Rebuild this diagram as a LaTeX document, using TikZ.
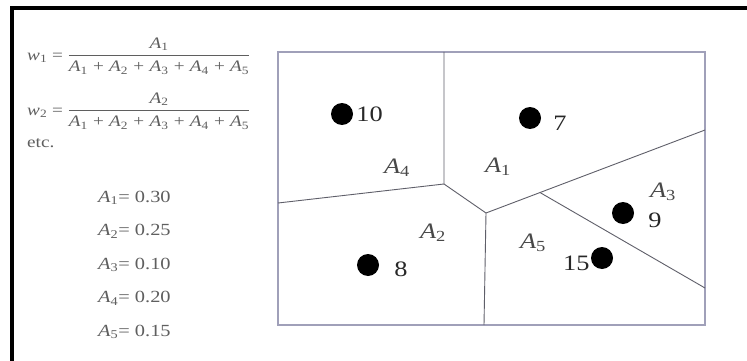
\documentclass[tikz,border=0pt]{standalone}
\usepackage{fontspec}
\setmainfont{Liberation Serif}[FakeStretch=1.2]
\usetikzlibrary{positioning,calc}
\definecolor{VorFrame}{RGB}{160,160,185}
\definecolor{VorEdge}{RGB}{95,95,105}
\definecolor{VorInk}{RGB}{40,40,40}
\definecolor{VorText}{RGB}{95,95,95}
\newcommand{\Ai}[1]{\textit{A}\textsubscript{#1}}
\newcommand{\Pl}{\mkern1.5mu\mathbin{\mbox{+}}\mkern1.5mu}
\newcommand{\Eq}{\mathrel{\mbox{=}}}
\tikzset{
  vor site/.style={circle, fill=black, minimum size=22pt, inner sep=0pt},
  vor num/.style={font=\fontsize{22}{24}\selectfont, text=VorInk, inner sep=0pt},
  vor area/.style={font=\fontsize{22}{24}\selectfont, text=VorInk!85, inner sep=0pt},
  vor edge/.style={draw=VorEdge, line width=0.9pt},
  vor frame/.style={draw=VorFrame, line width=1.2pt},
  w text/.style={font=\fontsize{16}{19}\selectfont, text=VorText, inner sep=0pt, anchor=base west},
  w list/.style={font=\fontsize{17}{20}\selectfont, text=VorText, inner sep=0pt, anchor=west}
}

\begin{document}
\begin{tikzpicture}[x=1pt, y=-1pt]
\useasboundingbox (0,0) rectangle (747,361);
\fill[white] (0,0) rectangle (747,361);
% outer frame, cut at right and bottom
\draw[line width=4pt] (12,366) -- (12,8) -- (752,8);

% weights
\node[w text] (w1) at (27,60) {$\textit{w}\textsubscript{1} \Eq \displaystyle\frac{\Ai{1}}{\Ai{1}\Pl\Ai{2}\Pl\Ai{3}\Pl\Ai{4}\Pl\Ai{5}}$};
\node[w text] (w2) at (27,115) {$\textit{w}\textsubscript{2} \Eq \displaystyle\frac{\Ai{2}}{\Ai{1}\Pl\Ai{2}\Pl\Ai{3}\Pl\Ai{4}\Pl\Ai{5}}$};
\node[w text] (etc) at (27,147) {etc.};
\foreach \i/\v [count=\k] in {1/0.30,2/0.25,3/0.10,4/0.20,5/0.15}
  \node[w list] (a\i) at (98,{198+33.5*(\k-1)}) {\Ai{\i}= \v};

% Voronoi cells
\coordinate (nw) at (278,52);
\coordinate (se) at (705,325);
\coordinate (top) at (444,52);
\coordinate (p) at (444,184);
\coordinate (west) at (278,203);
\coordinate (q) at (486,213);
\coordinate (bot) at (484,325);
\coordinate (r) at (705,130);
\coordinate (s) at ($(q)!0.2466!(r)$);
\coordinate (e) at (705,288);
\draw[vor frame] (nw) rectangle (se);
\draw[vor edge] (top) -- (p) -- (q) -- (bot);
\draw[vor edge] (west) -- (p);
\draw[vor edge] (q) -- (r);
\draw[vor edge] (s) -- (e);

% sites
\node[vor site] (d10) at (342,114) {};
\node[vor site] (d7) at (530,118) {};
\node[vor site] (d8) at (368,265) {};
\node[vor site] (d9) at (623,213) {};
\node[vor site] (d15) at (602,258) {};
\node[vor num, right=3pt of d10] (n10) {10};
\node[vor num, right=12pt of d7, yshift=-5pt] (n7) {7};
\node[vor num, right=15pt of d8, yshift=-4pt] (n8) {8};
\node[vor num, right=14pt of d9, yshift=-7pt] (n9) {9};
\node[vor num, left=1pt of d15, yshift=-5pt] (n15) {15};

% areas
\node[vor area] (A4) at (397,168) {\Ai{4}};
\node[vor area] (A1) at (498,167) {\Ai{1}};
\node[vor area] (A2) at (433,233) {\Ai{2}};
\node[vor area] (A3) at (663,192) {\Ai{3}};
\node[vor area] (A5) at (533,243) {\Ai{5}};
\end{tikzpicture}
\end{document}
